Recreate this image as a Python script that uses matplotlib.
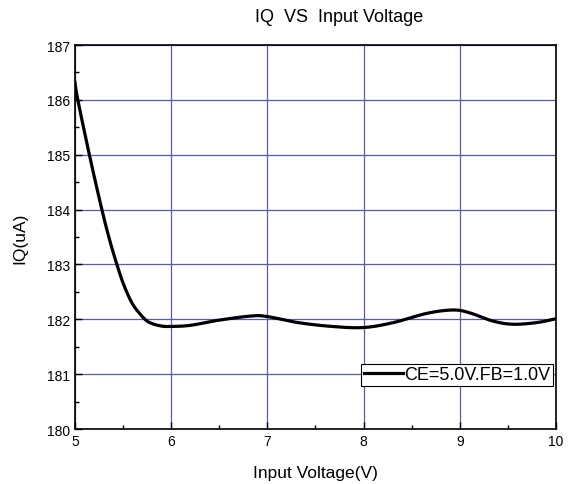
import matplotlib
matplotlib.use("Agg")
import matplotlib.pyplot as plt
import numpy as np
from matplotlib.ticker import MultipleLocator

plt.rcParams["font.family"] = ["Liberation Sans", "DejaVu Sans"]

# values
voltage = [5.00, 5.03, 5.15, 5.28, 5.36, 5.436, 5.505, 5.592, 5.68, 5.766,
           5.89, 6.00, 6.20, 6.48, 6.83, 7.00, 7.32, 7.67, 8.00, 8.31, 8.66,
           8.93, 9.10, 9.34, 9.55, 9.80, 10.00]
iq = [186.32, 186.00, 185.00, 184.00, 183.45, 183.00, 182.64, 182.30, 182.09,
      181.95, 181.88, 181.87, 181.89, 181.98, 182.06, 182.05, 181.94, 181.87,
      181.85, 181.94, 182.11, 182.17, 182.12, 181.97, 181.91, 181.94, 182.01]
legend_label = "CE=5.0V.FB=1.0V"


def catmull(xp, yp, n=30):
    # smooth curve through the read points (Origin draws a spline)
    xp = np.asarray(xp)
    yp = np.asarray(yp)
    px = np.concatenate([[2 * xp[0] - xp[1]], xp, [2 * xp[-1] - xp[-2]]])
    py = np.concatenate([[2 * yp[0] - yp[1]], yp, [2 * yp[-1] - yp[-2]]])
    outx, outy = [], []
    t = np.linspace(0, 1, n, endpoint=False)
    for i in range(1, len(px) - 2):
        for arr, out in ((px, outx), (py, outy)):
            p0, p1, p2, p3 = arr[i - 1], arr[i], arr[i + 1], arr[i + 2]
            out.extend(0.5 * (2 * p1 + (-p0 + p2) * t
                              + (2 * p0 - 5 * p1 + 4 * p2 - p3) * t ** 2
                              + (-p0 + 3 * p1 - 3 * p2 + p3) * t ** 3))
    outx.append(xp[-1])
    outy.append(yp[-1])
    return outx, outy


fig = plt.figure(figsize=(5.72, 4.85), dpi=100)
ax = fig.add_axes([0.131, 0.1134, 0.841, 0.7916])

cx, cy = catmull(voltage, iq)
ax.plot(cx, cy, color="black", linewidth=2.3, label=legend_label, zorder=3)

ax.set_xlim(5, 10)
ax.set_ylim(180, 187)
ax.xaxis.set_major_locator(MultipleLocator(1))
ax.xaxis.set_minor_locator(MultipleLocator(0.5))
ax.yaxis.set_major_locator(MultipleLocator(1))
ax.yaxis.set_minor_locator(MultipleLocator(0.5))
ax.tick_params(which="both", direction="in", top=False, right=False,
               labelsize=10)
ax.tick_params(which="major", length=5, width=1)
ax.tick_params(which="minor", length=3, width=1)
ax.grid(True, which="major", color="#5a5aaa", linewidth=0.9)
for s in ax.spines.values():
    s.set_linewidth(1.2)

ax.set_xlabel("Input Voltage(V)", fontsize=12.5, labelpad=12)
ax.set_ylabel("IQ(uA)", fontsize=12.5, labelpad=14)
fig.text(0.593, 0.963, "IQ  VS  Input Voltage", ha="center", va="center",
         fontsize=13)

leg = ax.legend(loc="lower right", bbox_to_anchor=(0.994, 0.112), fontsize=13,
                frameon=True, fancybox=False, framealpha=1, edgecolor="black",
                borderpad=0.15, handlelength=2.2, handletextpad=0.05,
                borderaxespad=0.0)
leg.get_frame().set_linewidth(0.8)

fig.savefig("out.png", dpi=100)
